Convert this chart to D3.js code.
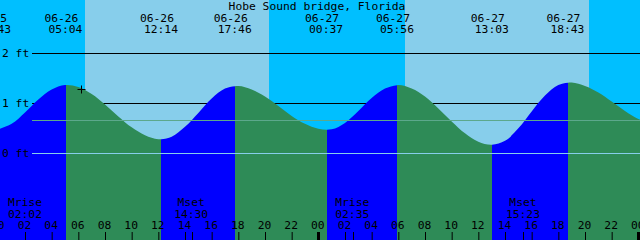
<!DOCTYPE html>
<html>
<head>
<meta charset="utf-8">
<script src="https://cdn.jsdelivr.net/npm/d3@7"></script>
<style>
  body { margin: 0; background: #fff; }
  svg { display: block; }
  text { font-family: "DejaVu Sans Mono", monospace; font-size: 11.3px; fill: #000; }
</style>
</head>
<body>
<div id="chart"></div>
<script>
// chart title
var title = "Hobe Sound bridge, Florida";

// hourly water level readings (ft), first one at sampleStart
var sampleStart = "2024-06-26 00:00";
var tideHeights = [0.47, 0.58, 0.81, 1.07, 1.27, 1.36,
                   1.32, 1.18, 0.97, 0.73, 0.51, 0.35, 0.27,
                   0.32, 0.52, 0.80, 1.09, 1.29,
                   1.34, 1.27, 1.13, 0.94, 0.74, 0.58, 0.48,
                   0.47, 0.60, 0.84, 1.10, 1.29,
                   1.36, 1.29, 1.13, 0.89, 0.63, 0.39, 0.22, 0.16,
                   0.24, 0.49, 0.83, 1.15, 1.36,
                   1.41, 1.34, 1.21, 1.03, 0.84, 0.68, 0.58];

// high / low tide events
var tideTimes = ["2024-06-25 23:43", "2024-06-26 05:04", "2024-06-26 12:14", "2024-06-26 17:46",
                 "2024-06-27 00:37", "2024-06-27 05:56", "2024-06-27 13:03", "2024-06-27 18:43",
                 "2024-06-28 01:48"];
var tideKinds = ["low", "high", "low", "high", "low", "high", "low", "high", "low"];

// sun and moon
var sunrise = ["2024-06-26 06:30", "2024-06-27 06:30"];
var sunset = ["2024-06-26 20:18", "2024-06-27 20:18"];
var moonTimes = ["2024-06-26 02:02", "2024-06-26 14:30", "2024-06-27 02:35", "2024-06-27 15:23"];
var moonKinds = ["Mrise", "Mset", "Mrise", "Mset"];

// depth lines (ft)
var depthLines = [0, 1, 2];
var mslHeight = 0.66;

// "now" marker
var nowTime = "2024-06-26 06:14";
var nowHeight = 1.29;

var width = 640, height = 240;
var parse = d3.timeParse("%Y-%m-%d %H:%M");
var fmtDate = d3.timeFormat("%m-%d"), fmtTime = d3.timeFormat("%H:%M");

var svg = d3.select("#chart")
    .append("svg")
    .attr("width", width)
    .attr("height", height);

var x = d3.scaleTime()
    .domain([new Date(2024, 5, 26, 0, 7, 30), new Date(2024, 5, 28, 0, 7, 30)])
    .range([0, width]);
var y = d3.scaleLinear()
    .domain([0, 2])
    .range([152.7, 53.3]);

// sky: night then day bands
svg.append("rect")
    .attr("width", width).attr("height", height)
    .attr("fill", "#00bfff");
svg.selectAll(".day")
    .data(sunrise.map(function(s, i) { return {rise: parse(s), set: parse(sunset[i])}; }))
    .enter().append("rect")
    .attr("class", "day")
    .attr("x", function(d) { return Math.round(x(d.rise)); })
    .attr("width", function(d) { return Math.round(x(d.set)) - Math.round(x(d.rise)); })
    .attr("y", 0).attr("height", height)
    .attr("fill", "#87ceeb");

// black depth lines (water covers them)
svg.selectAll(".depth")
    .data(depthLines.filter(function(d) { return d > 0; }))
    .enter().append("line")
    .attr("x1", 32).attr("x2", width)
    .attr("y1", function(d) { return Math.round(y(d)) + 0.5; })
    .attr("y2", function(d) { return Math.round(y(d)) + 0.5; })
    .attr("stroke", "#000")
    .attr("shape-rendering", "crispEdges");

// water
var t0 = parse(sampleStart);
var samples = tideHeights.map(function(h, i) { return {t: d3.timeHour.offset(t0, i), h: h}; });
var area = d3.area()
    .x(function(d) { return x(d.t); })
    .y0(height)
    .y1(function(d) { return y(d.h); })
    .curve(d3.curveCatmullRom.alpha(0.5));

var events = tideTimes.map(function(s, i) { return {t: parse(s), kind: tideKinds[i]}; });
var defs = svg.append("defs");
events.slice(0, -1).forEach(function(e, i) {
    var xa = Math.round(x(e.t)), xb = Math.round(x(events[i + 1].t));
    defs.append("clipPath").attr("id", "seg" + i)
        .append("rect")
        .attr("x", xa).attr("width", xb - xa)
        .attr("y", 0).attr("height", height);
    svg.append("path")
        .datum(samples)
        .attr("d", area)
        .attr("clip-path", "url(#seg" + i + ")")
        .attr("fill", e.kind == "low" ? "#0000ff" : "#2e8b57");
});

// mean sea level and datum lines
svg.append("line")
    .attr("x1", 32).attr("x2", width)
    .attr("y1", Math.round(y(mslHeight)) + 0.5).attr("y2", Math.round(y(mslHeight)) + 0.5)
    .attr("stroke", "#5ca88c")
    .attr("shape-rendering", "crispEdges");
svg.append("line")
    .attr("x1", 32).attr("x2", width)
    .attr("y1", Math.round(y(0)) + 0.5).attr("y2", Math.round(y(0)) + 0.5)
    .attr("stroke", "#87ceeb")
    .attr("shape-rendering", "crispEdges");

// depth labels
svg.selectAll(".ylab")
    .data(depthLines)
    .enter().append("text")
    .attr("x", 2)
    .attr("y", function(d) { return Math.round(y(d)) + 4; })
    .text(function(d) { return d + " ft"; });

// title
svg.append("text")
    .attr("x", 317).attr("y", 10)
    .attr("text-anchor", "middle")
    .text(title);

// tide event labels (only those that fall on the chart)
var tideLab = svg.selectAll(".tlab")
    .data(events.filter(function(d) { return x(d.t) < width; }))
    .enter().append("g");
tideLab.append("text")
    .attr("x", function(d) { return x(d.t) - 4.5; })
    .attr("y", 22)
    .attr("text-anchor", "middle")
    .text(function(d) { return fmtDate(d.t); });
tideLab.append("text")
    .attr("x", function(d) { return x(d.t) - 0.5; })
    .attr("y", 33)
    .attr("text-anchor", "middle")
    .text(function(d) { return fmtTime(d.t); });

// moon labels
var moon = moonTimes.map(function(s, i) { return {t: parse(s), kind: moonKinds[i]}; });
var moonLab = svg.selectAll(".mlab").data(moon).enter().append("g");
moonLab.append("text")
    .attr("x", function(d) { return x(d.t) - 0.5; })
    .attr("y", 206)
    .attr("text-anchor", "middle")
    .text(function(d) { return d.kind; });
moonLab.append("text")
    .attr("x", function(d) { return x(d.t) - 0.5; })
    .attr("y", 218)
    .attr("text-anchor", "middle")
    .text(function(d) { return fmtTime(d.t); });

// time axis along the bottom
var hourTicks = d3.timeHours(d3.timeDay.floor(x.domain()[0]), d3.timeHour.offset(x.domain()[1], 1), 2);
var xAxis = svg.append("g")
    .attr("transform", "translate(0," + height + ")")
    .call(d3.axisTop(x)
        .tickValues(hourTicks)
        .tickSize(8)
        .tickPadding(3)
        .tickFormat(d3.timeFormat("%H")));
xAxis.select(".domain").remove();
xAxis.selectAll("line").attr("stroke", "#000");
xAxis.selectAll("text")
    .attr("dx", -1)
    .style("font-family", "'DejaVu Sans Mono', monospace")
    .style("font-size", "11.3px")
    .attr("fill", "#000");

// moon ticks
svg.selectAll(".mtick").data(moon).enter().append("line")
    .attr("x1", function(d) { return Math.round(x(d.t)) + 0.5; })
    .attr("x2", function(d) { return Math.round(x(d.t)) + 0.5; })
    .attr("y1", height - 8).attr("y2", height)
    .attr("stroke", "#000");

// midnight ticks
svg.selectAll(".midnight")
    .data(d3.timeDays(x.domain()[0], x.domain()[1]))
    .enter().append("rect")
    .attr("x", function(d) { return Math.round(x(d)) - 1; })
    .attr("width", 3)
    .attr("y", height - 8).attr("height", 8)
    .attr("fill", "#000");

// "+" marker for the current time
var nx = Math.round(x(parse(nowTime))) + 0.5, ny = Math.round(y(nowHeight)) + 0.5;
svg.append("path")
    .attr("d", "M" + (nx - 4) + "," + ny + "H" + (nx + 4) + "M" + nx + "," + (ny - 4) + "V" + (ny + 4))
    .attr("stroke", "#000")
    .attr("fill", "none");
</script>
</body>
</html>
